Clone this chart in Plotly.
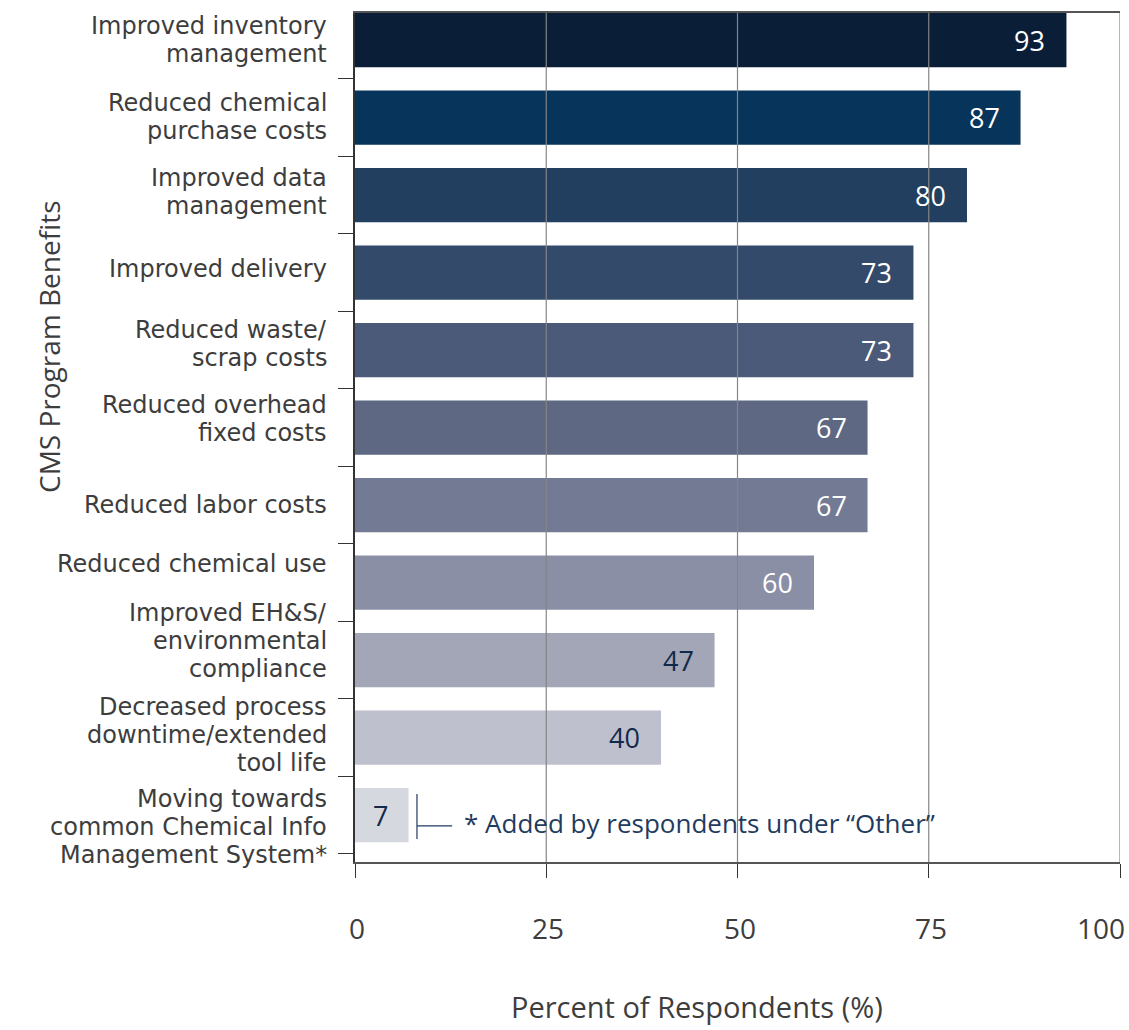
import plotly.graph_objects as go

categories = [
    "Improved inventory<br>management",
    "Reduced chemical<br>purchase costs",
    "Improved data<br>management",
    "Improved delivery",
    "Reduced waste/<br>scrap costs",
    "Reduced overhead<br>fixed costs",
    "Reduced labor costs",
    "Reduced chemical use",
    "Improved EH&S/<br>environmental<br>compliance",
    "Decreased process<br>downtime/extended<br>tool life",
    "Moving towards<br>common Chemical Info<br>Management System*",
]
values = [93, 87, 80, 73, 73, 67, 67, 60, 47, 40, 7]
bar_colors = ["#0a1e38", "#07345a", "#223f5f", "#334a6a", "#4a5a78", "#5e6882",
              "#737b94", "#8a8fa5", "#a2a6b6", "#bec0ce", "#d6d8e0"]
label_colors = ["#ffffff"] * 8 + ["#13294a"] * 3
x_ticks = [0, 25, 50, 75, 100]
footnote = "* Added by respondents under \u201cOther\u201d"

# layout: small vertical nudges (px, screen-down positive) of category labels as in the original
label_nudge = [0, -1, -3, -4, -6, -9, 0, -19, -19, -3, 12]

FONT = "Open Sans"
LFONT = "DejaVu Sans"
TXT = "#3d3d3d"
L, R, T, B = 355, 9, 13, 168
W, H = 1129, 1030
pw, ph = W - L - R, H - T - B

fig = go.Figure()
fig.add_trace(go.Bar(
    x=values, y=categories, orientation="h",
    marker=dict(color=bar_colors, line=dict(width=0)),
    width=0.7, hoverinfo="skip",
))

# value labels inside bar ends
for v, c, lc in zip(values, categories, label_colors):
    fig.add_annotation(x=v, y=c, text=str(v), showarrow=False, xanchor="right",
                       xshift=-19, font=dict(family=FONT, size=27, color=lc))

# category labels, one annotation per line (tight line spacing like the original)
LS = 28
for c, nudge in zip(categories, label_nudge):
    lines = c.split("<br>")
    n = len(lines)
    for i, ln in enumerate(lines):
        fig.add_annotation(xref="paper", x=0, yref="y", y=c, text=ln, showarrow=False,
                           xanchor="right", xshift=-27,
                           yshift=((n - 1) / 2 - i) * LS - nudge,
                           borderpad=0,
                           font=dict(family=LFONT, size=24, color=TXT))

# x tick labels
for t in x_ticks:
    last = t == x_ticks[-1]
    fig.add_annotation(x=t, xref="x", yref="paper", y=-(928 - (H - B)) / ph, text=str(t),
                       showarrow=False, xanchor="right" if last else "center",
                       xshift=7 if last else 2, yanchor="middle",
                       font=dict(family=FONT, size=28, color=TXT))

# gridlines drawn above bars
for t in x_ticks[1:]:
    fig.add_shape(type="line", xref="x", yref="paper", x0=t, x1=t, y0=0, y1=1,
                  line=dict(color="#858585", width=1.2), layer="above")

# footnote with bracket
last_cat = categories[-1]
fv = values[-1]
fig.add_shape(type="line", xref="x", yref="y", x0=fv + 1.1, x1=fv + 1.1,
              y0=-0.31, y1=0.27, line=dict(color="#1f3b5e", width=1.2))
fig.add_shape(type="line", xref="x", yref="y", x0=fv + 1.1, x1=fv + 5.7,
              y0=-0.14, y1=-0.14, line=dict(color="#1f3b5e", width=1.2))
fig.add_annotation(x=fv + 7.0, y=last_cat, yshift=-8, text=footnote, showarrow=False,
                   xanchor="left", font=dict(family=FONT, size=26, color="#1f3b5e"))

# axis titles
fig.add_annotation(xref="paper", yref="paper", x=(28 - L) / pw, y=(H - B - 347) / ph,
                   text="CMS Program Benefits", textangle=-90, showarrow=False,
                   font=dict(family=FONT, size=28, color=TXT))
fig.add_annotation(xref="paper", yref="paper", x=(697 - L) / pw, y=-(1007 - (H - B)) / ph,
                   text="Percent of Respondents (%)", showarrow=False, yanchor="middle",
                   font=dict(family=FONT, size=29, color=TXT))

fig.update_layout(
    width=W, height=H,
    margin=dict(l=L, r=R, t=T, b=B),
    paper_bgcolor="white", plot_bgcolor="white",
    showlegend=False,
)
fig.update_xaxes(
    range=[0, 100], tickvals=x_ticks, showticklabels=False,
    showgrid=False, zeroline=False,
    showline=True, linecolor="#555555", linewidth=1.5, mirror=True,
    ticks="outside", ticklen=14, tickcolor="#333333", tickwidth=1.2,
)
fig.update_yaxes(
    categoryorder="array", categoryarray=categories[::-1],
    autorange=False, range=[-0.606, 10.349],
    showgrid=False, zeroline=False, showticklabels=False,
    showline=True, linecolor="#333333", linewidth=1.5,
    ticks="outside", tickson="boundaries", ticklen=15, tickcolor="#333333", tickwidth=1.2,
)

fig.write_html("out.html")
